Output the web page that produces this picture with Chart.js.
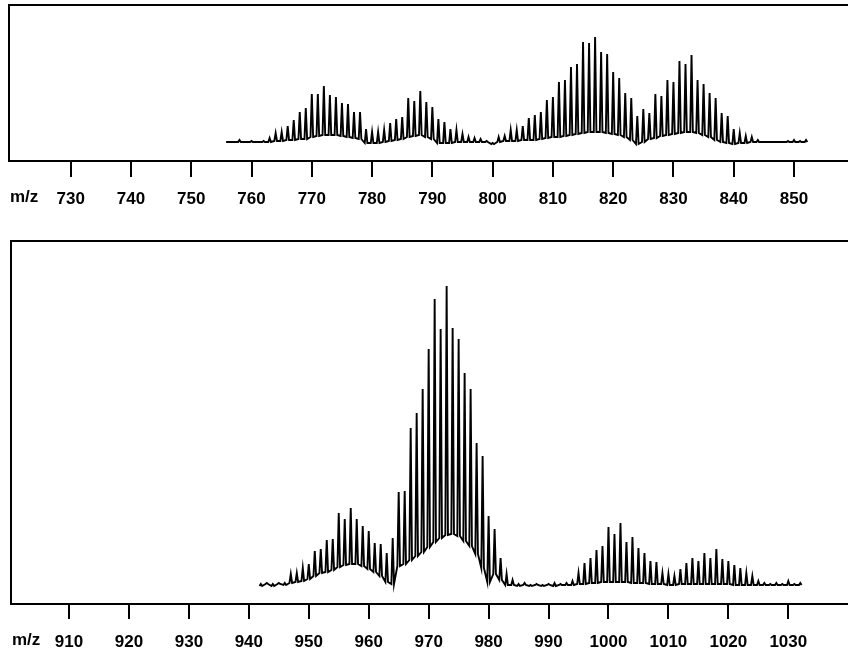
<!DOCTYPE html>
<html>
<head>
<meta charset="utf-8">
<script src="https://cdn.jsdelivr.net/npm/chart.js@4.4.1/dist/chart.umd.min.js"></script>
<style>
  html, body { margin: 0; padding: 0; background: #fff; }
  body { width: 848px; height: 657px; position: relative; overflow: hidden; }
  canvas { position: absolute; left: 0; }
  #top-chart { top: 0; }
  #bottom-chart { top: 220px; }
</style>
</head>
<body>
<canvas id="top-chart" width="848" height="232"></canvas>
<canvas id="bottom-chart" width="848" height="450"></canvas>
<script>
// upper spectrum, one peak per m/z starting at topStart
const topStart = 756;
const topTicks = [730, 740, 750, 760, 770, 780, 790, 800, 810, 820, 830, 840, 850];
const topPeaks = [
  19, 19, 21, 19, 20, 19, 20, 23, 28, 29,
  35, 41, 49, 53, 67, 67, 75, 66, 64, 58,
  57, 49, 49, 32, 29, 29, 31, 38, 42, 44,
  63, 60, 70, 59, 54, 42, 39, 32, 31, 27,
  24, 23, 22, 20, 18, 24, 25, 31, 31, 35,
  43, 46, 49, 61, 64, 79, 81, 94, 97, 119,
  118, 124, 109, 107, 89, 83, 68, 63, 45, 52,
  48, 67, 65, 81, 79, 100, 97, 106, 81, 77,
  68, 63, 48, 45, 32, 28, 25, 24, 21, 19,
  19, 19, 19, 20, 21, 20, 21
];
const topValleys = [
  19, 19, 19, 19, 19, 19, 19, 19, 20, 20,
  21, 21, 22, 22, 24, 25, 26, 26, 26, 25,
  24, 23, 22, 18, 18, 18, 19, 20, 21, 22,
  24, 25, 26, 24, 22, 18, 18, 18, 19, 19,
  19, 19, 19, 19, 17, 19, 20, 20, 20, 21,
  21, 21, 22, 23, 24, 24, 25, 26, 27, 28,
  29, 29, 29, 28, 27, 26, 24, 21, 17, 19,
  22, 23, 25, 26, 27, 28, 29, 29, 28, 26,
  24, 21, 19, 18, 17, 18, 18, 19, 19, 19,
  19, 19, 19, 19, 19, 19, 19
];

// lower spectrum
const bottomStart = 942;
const bottomTicks = [910, 920, 930, 940, 950, 960, 970, 980, 990, 1000, 1010, 1020, 1030];
const bottomPeaks = [
  20, 21, 20, 21, 21, 30, 31, 36, 40, 53,
  55, 64, 65, 91, 85, 96, 85, 78, 73, 61,
  60, 51, 66, 112, 113, 176, 191, 215, 255, 305,
  275, 318, 276, 265, 231, 215, 161, 148, 88, 75,
  46, 30, 24, 20, 21, 19, 20, 19, 20, 21,
  20, 21, 23, 31, 41, 46, 54, 58, 77, 70,
  81, 62, 67, 56, 51, 43, 42, 31, 30, 28,
  35, 41, 46, 43, 51, 46, 55, 45, 43, 39,
  36, 31, 28, 23, 21, 20, 21, 20, 23, 20,
  21
];
const bottomValleys = [
  18, 20, 18, 20, 19, 21, 22, 23, 25, 28,
  31, 32, 34, 37, 39, 40, 40, 38, 35, 32,
  28, 22, 20, 38, 40, 44, 48, 52, 57, 62,
  66, 69, 70, 68, 63, 58, 50, 36, 22, 30,
  24, 19, 19, 18, 19, 18, 19, 18, 19, 18,
  19, 19, 19, 20, 20, 21, 21, 22, 22, 22,
  22, 22, 21, 21, 21, 20, 20, 20, 19, 19,
  20, 20, 20, 20, 20, 20, 20, 20, 20, 19,
  19, 19, 19, 19, 19, 19, 19, 19, 19, 19,
  19
];

const labelFont = { family: "'Liberation Sans', Arial, sans-serif", size: 17, weight: "bold" };

// each peak becomes a narrow spike rising from its valley level
function buildTrace(start, peaks, valleys) {
  const pts = [];
  peaks.forEach((p, i) => {
    const mz = start + i;
    pts.push({ x: mz - 0.22, y: valleys[i] });
    pts.push({ x: mz, y: p });
    pts.push({ x: mz + 0.22, y: valleys[i] });
  });
  return pts;
}

// left and top edges of the frame, plus the "m/z" caption
const framePlugin = {
  id: "frame",
  afterDraw(chart, args, opts) {
    const { ctx, chartArea } = chart;
    ctx.save();
    ctx.strokeStyle = "#000";
    ctx.lineWidth = 2;
    ctx.beginPath();
    ctx.moveTo(chartArea.left, chartArea.bottom);
    ctx.lineTo(chartArea.left, chartArea.top);
    ctx.lineTo(chart.width, chartArea.top);
    ctx.stroke();
    ctx.fillStyle = "#000";
    ctx.font = "bold 17px 'Liberation Sans', Arial, sans-serif";
    ctx.textBaseline = "top";
    ctx.textAlign = "left";
    ctx.fillText("m/z", chartArea.left + 1, chartArea.bottom + opts.labelOffset);
    ctx.restore();
  },
};

function makeChart(id, trace, xMin, xMax, yMax, ticks, padding, tickLen, tickPad) {
  return new Chart(document.getElementById(id), {
    type: "scatter",
    data: {
      datasets: [
        {
          data: trace,
          showLine: true,
          borderColor: "#000",
          borderWidth: 1.9,
          pointRadius: 0,
          tension: 0,
        },
      ],
    },
    options: {
      responsive: false,
      animation: false,
      devicePixelRatio: 1,
      layout: { padding },
      plugins: {
        legend: { display: false },
        tooltip: { enabled: false },
        frame: { labelOffset: tickLen + tickPad },
      },
      scales: {
        x: {
          type: "linear",
          min: xMin,
          max: xMax,
          afterBuildTicks: (scale) => {
            scale.ticks = ticks.map((v) => ({ value: v }));
          },
          grid: { drawOnChartArea: false, drawTicks: true, tickLength: tickLen, color: "#000", lineWidth: 2 },
          border: { display: true, color: "#000", width: 2 },
          ticks: {
            padding: tickPad,
            color: "#000",
            font: labelFont,
            maxRotation: 0,
            autoSkip: false,
            callback: (v) => String(v),
          },
        },
        y: { display: false, min: 0, max: yMax },
      },
    },
    plugins: [framePlugin],
  });
}

makeChart("top-chart", buildTrace(topStart, topPeaks, topValleys),
  719.76, 858.96, 156, topTicks,
  { left: 9, top: 5, right: 0, bottom: 10.6 }, 16, 12);

makeChart("bottom-chart", buildTrace(bottomStart, bottomPeaks, bottomValleys),
  900.32, 1039.96, 363, bottomTicks,
  { left: 11, top: 21, right: 0, bottom: 4.6 }, 15, 13);
</script>
</body>
</html>
